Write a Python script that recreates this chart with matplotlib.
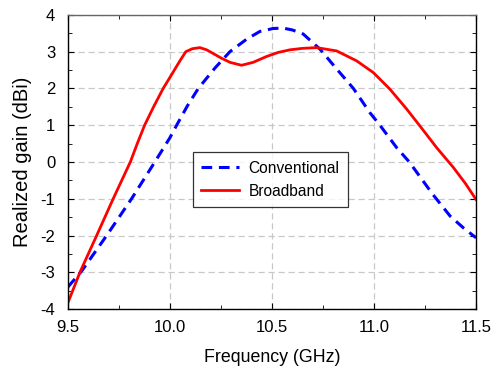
import matplotlib
matplotlib.use('Agg')
import matplotlib.pyplot as plt
from matplotlib.ticker import MultipleLocator, FormatStrFormatter

plt.rcParams['font.family'] = ['Liberation Sans', 'DejaVu Sans']
plt.rcParams['axes.unicode_minus'] = False

# Conventional antenna (blue dashed)
conv_f = [9.5, 9.567, 9.69, 9.812, 9.926, 10.0, 10.033, 10.085, 10.139, 10.22, 10.294,
          10.376, 10.441, 10.506, 10.555, 10.6, 10.653, 10.735, 10.817, 10.899,
          10.98, 11.029, 11.111, 11.173, 11.288, 11.373, 11.44, 11.5]
conv_g = [-3.40, -2.97, -2.0, -1.0, 0.0, 0.66, 1.0, 1.52, 2.0, 2.55, 3.0,
          3.34, 3.55, 3.63, 3.64, 3.59, 3.48, 3.07, 2.53, 2.0,
          1.34, 1.0, 0.39, 0.0, -0.88, -1.47, -1.80, -2.06]

# Broadband antenna (red solid)
bb_f = [9.5, 9.559, 9.641, 9.722, 9.806, 9.84, 9.876, 9.92, 9.967, 10.0, 10.049,
        10.078, 10.11, 10.147, 10.18, 10.212, 10.25, 10.294, 10.351, 10.408,
        10.474, 10.531, 10.588, 10.65, 10.719, 10.817, 10.915, 10.997, 11.078,
        11.16, 11.225, 11.307, 11.389, 11.45, 11.5]
bb_g = [-3.83, -3.0, -2.0, -1.0, 0.0, 0.5, 1.0, 1.5, 2.0, 2.3, 2.75,
        3.0, 3.08, 3.11, 3.05, 2.95, 2.83, 2.71, 2.63, 2.71,
        2.87, 2.98, 3.05, 3.09, 3.11, 3.02, 2.75, 2.43, 1.98,
        1.44, 0.98, 0.39, -0.15, -0.60, -1.02]

fig = plt.figure(figsize=(4.99, 3.72), dpi=100)
ax = fig.add_axes([0.136, 0.169, 0.818, 0.791])

ax.plot(conv_f, conv_g, color='#0000ff', linestyle=(0, (3.5, 2.2)), linewidth=2.2,
        label='Conventional')
ax.plot(bb_f, bb_g, color='#ff0000', linewidth=2.0, label='Broadband')

ax.set_xlim(9.5, 11.5)
ax.set_ylim(-4, 4)
ax.xaxis.set_major_locator(MultipleLocator(0.5))
ax.xaxis.set_minor_locator(MultipleLocator(0.25))
ax.yaxis.set_major_locator(MultipleLocator(1))
ax.yaxis.set_minor_locator(MultipleLocator(0.5))
ax.xaxis.set_major_formatter(FormatStrFormatter('%.1f'))
ax.tick_params(which='both', direction='in', top=True, right=True, labelsize=12)
ax.tick_params(which='major', length=4)
ax.tick_params(which='minor', length=3)
ax.tick_params(axis='x', pad=8)
ax.tick_params(axis='y', pad=9)
ax.grid(True, which='major', color='#c8c8c8', linestyle=(0, (5, 3)), linewidth=0.9)
for s in ax.spines.values():
    s.set_linewidth(1.0)
ax.spines['top'].set_color('#666666')

ax.set_xlabel('Frequency (GHz)', fontsize=12.8, labelpad=10)
ax.set_ylabel('Realized gain (dBi)', fontsize=14.5, labelpad=6)

leg = ax.legend(loc='upper left', bbox_to_anchor=(0.306, 0.533), borderaxespad=0,
                fontsize=11.2, frameon=True, fancybox=False, edgecolor='black',
                handlelength=2.45, handletextpad=0.58, borderpad=0.55,
                labelspacing=0.5)
leg.get_frame().set_linewidth(0.9)

fig.savefig('out.png', dpi=100)
